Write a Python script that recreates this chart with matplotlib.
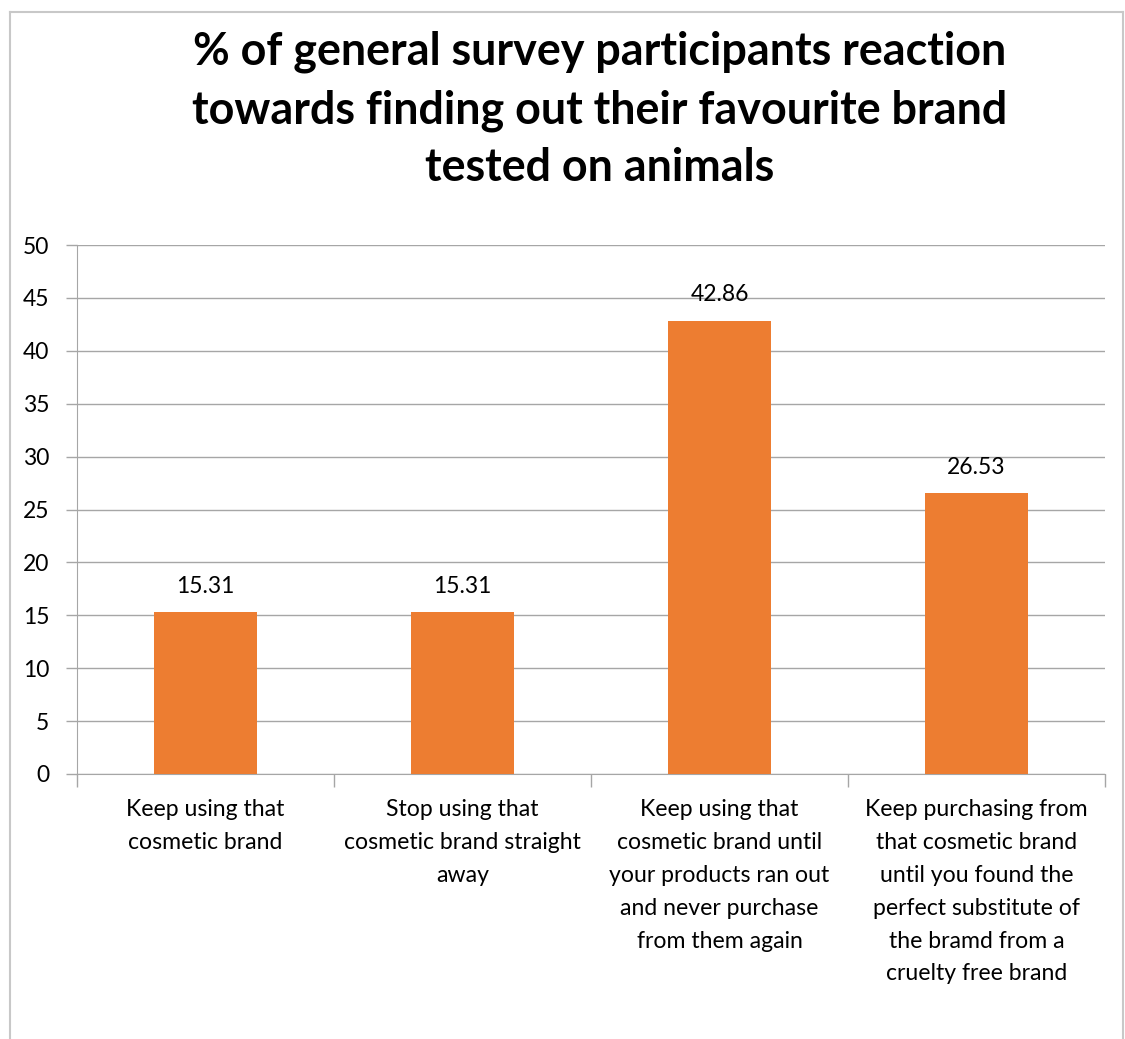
import matplotlib
matplotlib.use("Agg")
import matplotlib.pyplot as plt
from matplotlib.lines import Line2D

plt.rcParams['font.family'] = ['Lato', 'DejaVu Sans']

title = ("% of general survey participants reaction\n"
         "towards finding out their favourite brand\n"
         "tested on animals")
categories = [
    "Keep using that\ncosmetic brand",
    "Stop using that\ncosmetic brand straight\naway",
    "Keep using that\ncosmetic brand until\nyour products ran out\nand never purchase\nfrom them again",
    "Keep purchasing from\nthat cosmetic brand\nuntil you found the\nperfect substitute of\nthe bramd from a\ncruelty free brand",
]
values = [15.31, 15.31, 42.86, 26.53]
yticks = [0, 5, 10, 15, 20, 25, 30, 35, 40, 45, 50]

W, H = 1125, 1039
fig = plt.figure(figsize=(W / 100, H / 100), dpi=100)
ax = fig.add_axes([77 / W, 1 - 774 / H, (1105 - 77) / W, (774 - 245) / H])

grid_col = '#A6A6A6'
x = list(range(len(values)))
bars = ax.bar(x, values, width=0.4, color='#ED7D31', zorder=3)

ax.set_xlim(-0.5, len(values) - 0.5)
ax.set_ylim(0, 50)
ax.set_yticks(yticks)
ax.set_yticklabels([str(t) for t in yticks], fontsize=16.5)
ax.yaxis.grid(True, color=grid_col, linewidth=1, zorder=0)
ax.set_axisbelow(True)

# Category ticks sit on the boundaries between groups
ax.set_xticks([i - 0.5 for i in range(len(values) + 1)])
ax.set_xticklabels([])
ax.set_xticks(x, minor=True)
ax.set_xticklabels(categories, minor=True, fontsize=16.6, linespacing=1.7, va='top')
ax.tick_params(axis='x', which='minor', length=0, pad=18)
ax.tick_params(axis='x', which='major', length=9, color=grid_col, width=1)
ax.tick_params(axis='y', length=8, color=grid_col, width=1, pad=12)

for s in ['top', 'right']:
    ax.spines[s].set_visible(False)
ax.spines['left'].set_color(grid_col)
ax.spines['bottom'].set_color(grid_col)

for b, v in zip(bars, values):
    ax.annotate(f"{v:.2f}", (b.get_x() + b.get_width() / 2, v),
                xytext=(0, 11), textcoords='offset points',
                ha='center', va='bottom', fontsize=16.5)

fig.text(600 / W, 1 - 110 / H, title, ha='center', va='center',
         fontsize=32.3, fontweight='bold', linespacing=1.46)

# Outer chart frame
border = '#C8C8C8'
fig.add_artist(Line2D([10 / W, 10 / W], [0, 1 - 12 / H], transform=fig.transFigure,
                      color=border, linewidth=1.5))
fig.add_artist(Line2D([10 / W, 1123 / W], [1 - 12 / H, 1 - 12 / H], transform=fig.transFigure,
                      color=border, linewidth=1.5))
fig.add_artist(Line2D([1123 / W, 1123 / W], [0, 1 - 12 / H], transform=fig.transFigure,
                      color=border, linewidth=1.5))

fig.savefig("out.png", dpi=100)
